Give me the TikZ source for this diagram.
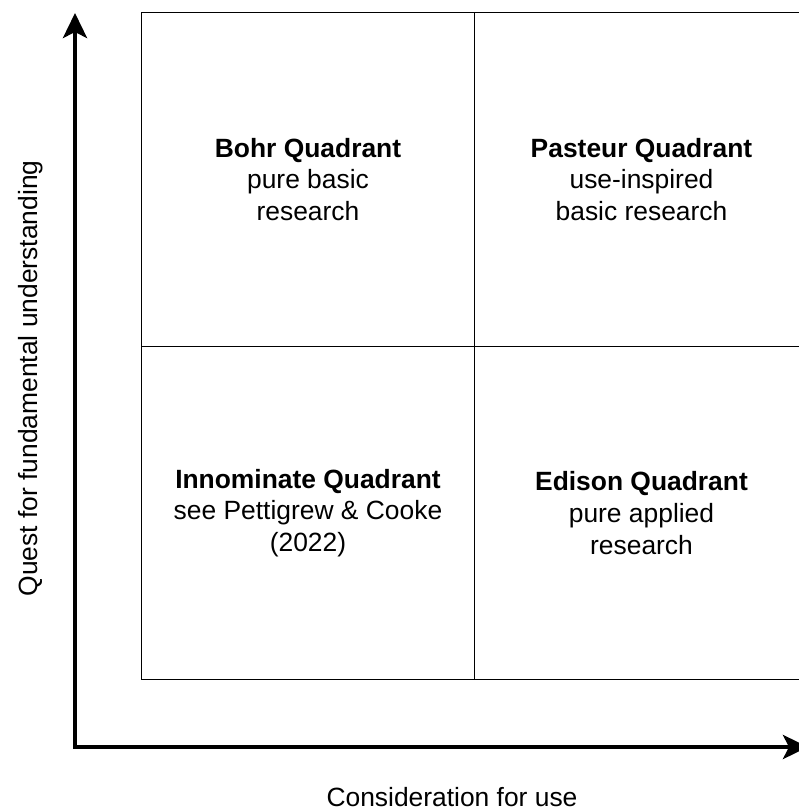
\documentclass[tikz,border=0pt]{standalone}
\usepackage{fontspec}
\setmainfont{Liberation Sans}
\usetikzlibrary{arrows.meta}
\begin{document}
\begin{tikzpicture}[x=1pt,y=-1pt,
  cell/.style={draw=black, line width=1.3pt, rectangle, inner sep=0pt, outer sep=0pt,
    minimum width=333.5pt, minimum height=333.5pt, align=center,
    font=\fontsize{26.4}{31.7}\selectfont},
  axisline/.style={line width=4.2pt, line join=miter,
    {Stealth[length=25pt,width=24pt,inset=6pt]}-{Stealth[length=25pt,width=24pt,inset=6pt]}},
  axislabel/.style={inner sep=0pt, font=\fontsize{26.4}{31.7}\selectfont}]
\useasboundingbox (0,0) rectangle (799,810);
\clip (0,0) rectangle (799,810);
% quadrant cells
\node[cell] (bohr) at (308,179.5) {\textbf{Bohr Quadrant}\\pure basic\\research};
\node[cell] (pasteur) at (641.5,179.5) {\textbf{Pasteur Quadrant}\\use-inspired\\basic research};
\node[cell] (innominate) at (308,513) {\textbf{Innominate Quadrant}\\see Pettigrew \& Cooke\\(2022)};
\node[cell] (edison) at (641.5,513) {\textbf{Edison Quadrant}\\pure applied\\research};
% axes
\coordinate (ytop) at (75,13);
\coordinate (origin) at (75,747);
\coordinate (xend) at (808,747);
\draw[axisline] (ytop) -- (origin) -- (xend);
% axis labels
\node[axislabel, rotate=90, anchor=base] (ylabel) at (37.5,378.5) {Quest for fundamental understanding};
\node[axislabel, anchor=base] (xlabel) at (452,806.5) {Consideration for use};
\end{tikzpicture}
\end{document}
